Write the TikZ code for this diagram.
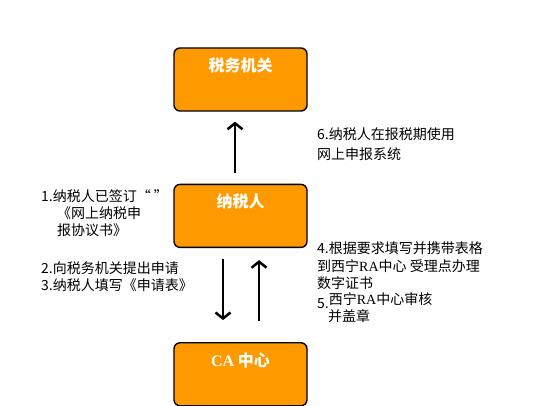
\documentclass[tikz,border=0pt]{standalone}
\usepackage{fontspec}
\setmainfont{Noto Sans CJK SC}
\newfontfamily\latinserif{Liberation Serif}
\usetikzlibrary{arrows.meta, positioning}
\definecolor{boxorange}{RGB}{255,153,0}

\begin{document}
\begin{tikzpicture}[
  x=1pt, y=-1pt,
  node distance=72pt,
  box/.style={rectangle, draw=black, line width=1.4pt, rounded corners=6pt,
             fill=boxorange, minimum width=133pt, minimum height=63pt,
             inner ysep=10pt, text height=13pt, text depth=29pt,
             font=\fontsize{16}{19}\selectfont\bfseries, text=white},
  note/.style={anchor=north west, inner sep=0pt, align=left,
             font=\fontsize{14}{17}\selectfont},
  arrow/.style={-{Straight Barb[length=6pt, width=15pt]}, line width=2.5pt, black}
]
\useasboundingbox (0,0) rectangle (544,406);

\node[box] (tax) at (240.5,79.5) {税务机关};
\node[box, below=of tax] (payer) {纳税人};
\node[box, below=94pt of payer] (ca) {{\latinserif CA} 中心};

\node[note] (step1) at (41,189) {%
  1.纳税人已签订“ ”\\
  \hspace{16pt}《网上纳税申\\
  \hspace{16pt}报协议书》};
\node[note] (step23) at (41,262) {%
  2.向税务机关提出申请\\
  3.纳税人填写《申请表》};
\node[note] (step6) at (317,128) {%
  6.纳税人在报税期使用\\[3pt]
  网上申报系统};
\node[note] (step4) at (317,241) {%
  4.根据要求填写并携带表格\\[1.5pt]
  到西宁{\latinserif RA}中心 受理点办理\\
  数字证书};
\node[note, font=\fontsize{14}{16}\selectfont] (step5) at (317,292) {%
  \raisebox{-4pt}{5.}西宁{\latinserif RA}中心审核\\
  \hspace{11pt}并盖章};

\draw[arrow, shorten <=11pt, shorten >=10pt] ([xshift=-5.5pt]payer.north) -- ([xshift=-5.5pt]tax.south);
\draw[arrow, shorten <=11pt, shorten >=22pt] ([xshift=-17.5pt]payer.south) -- ([xshift=-17.5pt]ca.north);
\draw[arrow, shorten <=21pt, shorten >=12pt] ([xshift=18.5pt]ca.north) -- ([xshift=18.5pt]payer.south);

\end{tikzpicture}
\end{document}
